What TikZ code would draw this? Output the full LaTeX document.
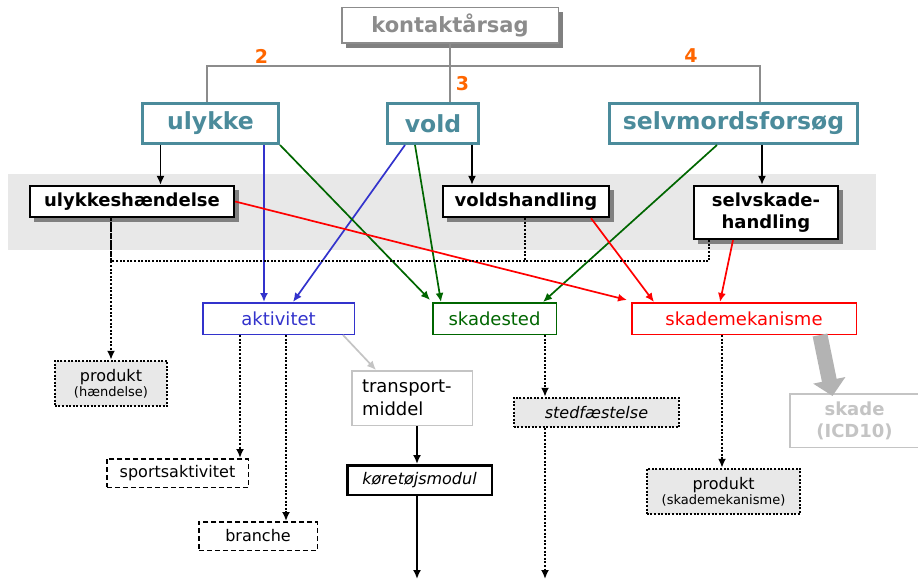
\documentclass[tikz,border=0pt]{standalone}
\usepackage{fontspec}
\setmainfont{DejaVu Sans}
\usetikzlibrary{arrows.meta,shadows}
\definecolor{headteal}{HTML}{4B8B9B}
\definecolor{numorange}{HTML}{FF6600}
\definecolor{aktblue}{HTML}{3333CC}
\definecolor{stedgreen}{HTML}{006600}
\definecolor{mekred}{HTML}{FF0000}
\definecolor{bandgray}{HTML}{E8E8E8}
\definecolor{shadowgray}{HTML}{808080}
\definecolor{rootgray}{HTML}{8C8C8C}
\definecolor{lightline}{HTML}{C4C4C4}
\definecolor{bigarrow}{HTML}{B3B3B3}
\begin{document}
\begin{tikzpicture}[x=1pt,y=-1pt,
    >={Latex[length=9pt,width=8pt]},
    shadowed/.style={drop shadow={shadow xshift=4.5pt,shadow yshift=-4.5pt,fill=shadowgray,opacity=1}},
    rootbox/.style={draw=rootgray,line width=1.5pt,fill=white,text=rootgray,shadowed,
        font=\fontsize{21}{24}\selectfont\bfseries,inner sep=0pt,minimum width=216.5pt,minimum height=35.5pt},
    headbox/.style={draw=headteal,line width=3pt,fill=white,text=headteal,
        font=\fontsize{23.5}{26}\selectfont\bfseries,inner sep=0pt,minimum height=40pt},
    actbox/.style={draw=black,line width=1.8pt,fill=white,shadowed,align=center,
        font=\fontsize{18}{22}\selectfont\bfseries,inner sep=0pt,minimum height=31.5pt},
    catbox/.style={line width=1.5pt,fill=white,inner sep=0pt,minimum height=31.5pt,
        font=\fontsize{18}{21}\selectfont},
    dotline/.style={line width=2pt,dash pattern=on 2pt off 1.6pt},
    dotbox/.style={draw=black,dotline,fill=bandgray,inner sep=0pt,align=center,
        font=\fontsize{16}{15}\selectfont},
    dashbox/.style={draw=black,line width=1.5pt,dash pattern=on 5pt off 3pt,fill=white,inner sep=0pt,
        minimum height=28.5pt,font=\fontsize{16}{18}\selectfont},
    tree/.style={draw=rootgray,line width=1.8pt},
    link/.style={->,line width=1.7pt},
    num/.style={text=numorange,font=\fontsize{19}{21}\selectfont\bfseries}]
    \useasboundingbox (0,0) rectangle (918,580);

    \fill[bandgray] (8,174) rectangle (876,250);

    \node[rootbox] (kontakt) at (450,25.5) {kontaktårsag};
    \node[headbox,minimum width=136pt] (ulykke) at (210.5,123.5) {ulykke};
    \node[headbox,minimum width=91pt] (vold) at (433,123.5) {vold};
    \node[headbox,minimum width=248pt] (selvmord) at (733.5,123.5) {selvmordsforsøg};

    \draw[tree] (kontakt.south) -- (kontakt.south |- vold.north);
    \draw[tree] ([xshift=-3.5pt]ulykke.north) -- ++(0,-36) -| ([xshift=26.5pt]selvmord.north);
    \node[num] (n2) at (261.5,56) {2};
    \node[num] (n3) at (462.5,83.5) {3};
    \node[num] (n4) at (691,56) {4};

    \node[actbox,minimum width=204.5pt] (uhaend) at (132,201.5) {ulykkeshændelse};
    \node[actbox,minimum width=166.5pt] (voldsh) at (526,201.5) {voldshandling};
    \node[actbox,minimum width=144.5pt,minimum height=53.5pt] (selvskade) at (766,212.5) {selvskade-\\handling};

    \draw[link] ([xshift=-50pt]ulykke.south) -- ([xshift=28.5pt]uhaend.north);
    \draw[link] ([xshift=39pt]vold.south) -- ([xshift=-54pt]voldsh.north);
    \draw[link] ([xshift=28.5pt]selvmord.south) -- ([xshift=-4pt]selvskade.north);

    \node[catbox,draw=aktblue,text=aktblue,minimum width=151.5pt] (aktiv) at (278.5,318.5) {aktivitet};
    \node[catbox,draw=stedgreen,text=stedgreen,minimum width=123.5pt] (skadested) at (494.5,318.5) {skadested};
    \node[catbox,draw=mekred,text=mekred,minimum width=224.5pt] (skademek) at (744,318.5) {skademekanisme};

    \draw[link,aktblue] ([xshift=53.5pt]ulykke.south) -- ([xshift=-14.5pt]aktiv.north);
    \draw[link,aktblue] ([xshift=-28pt]vold.south) -- ([xshift=14.5pt]aktiv.north);
    \draw[link,stedgreen] (ulykke.south east) -- ([xshift=-2pt,yshift=2pt]skadested.north west);
    \draw[link,stedgreen] ([xshift=-18pt]vold.south) -- ([xshift=-53.5pt]skadested.north);
    \draw[link,stedgreen] ([xshift=-16.5pt]selvmord.south) -- ([xshift=48.5pt]skadested.north);
    \draw[link,mekred] (uhaend.east) -- ([xshift=-4pt,yshift=2pt]skademek.north west);
    \draw[link,mekred] ([xshift=65pt]voldsh.south) -- ([xshift=-90pt]skademek.north);
    \draw[link,mekred] ([xshift=-33pt]selvskade.south) -- ([xshift=-24pt]skademek.north);

    \node[dotbox,minimum width=112.5pt,minimum height=45.5pt] (produkt) at (111,383.5)
        {produkt\\\fontsize{13}{15}\selectfont(hændelse)};
    \draw[dotline,->] ([xshift=-21pt]uhaend.south) -- (produkt.north);
    \draw[dotline] ([xshift=-57pt]selvskade.south) -- ++(0,21) -| ([xshift=-21pt]uhaend.south);
    \draw[dotline] ([xshift=-1pt]voldsh.south) -- ++(0,43);

    \node[dashbox,minimum width=141.5pt] (sport) at (177.5,473) {sportsaktivitet};
    \node[dashbox,minimum width=118.5pt] (branche) at (258,536) {branche};
    \draw[dotline,->] ([xshift=-38.5pt]aktiv.south) -- ([xshift=62.5pt]sport.north);
    \draw[dotline,->] ([xshift=7.5pt]aktiv.south) -- ([xshift=28pt]branche.north);

    \node[catbox,draw=lightline,text width=100pt,align=left,minimum width=120.5pt,
        minimum height=54.5pt,font=\fontsize{18}{23}\selectfont] (transport) at (412,398) {transport-\\middel};
    \node[catbox,draw=black,line width=2.5pt,minimum width=144.5pt,minimum height=29.5pt,
        font=\fontsize{16}{18}\selectfont\itshape] (koeretoej) at (419.5,480) {køretøjsmodul};
    \coordinate (kend) at (417,579);
    \draw[link,lightline] ([xshift=64.5pt]aktiv.south) -- ([xshift=-36pt]transport.north);
    \draw[link] ([xshift=5pt]transport.south) -- ([xshift=-2.5pt]koeretoej.north);
    \draw[link] ([xshift=-2.5pt]koeretoej.south) -- (kend);

    \node[dotbox,minimum width=165.5pt,minimum height=29.5pt,font=\fontsize{16}{18}\selectfont\itshape]
        (stedfaest) at (596.5,412.5) {stedfæstelse};
    \coordinate (send) at (545,579);
    \draw[dotline,->] ([xshift=50.5pt]skadested.south) -- ([xshift=-51.5pt]stedfaest.north);
    \draw[dotline,->] ([xshift=-51.5pt]stedfaest.south) -- (send);

    \node[dotbox,minimum width=153.5pt,minimum height=45.5pt] (produktmek) at (723.5,491.5)
        {produkt\\\fontsize{13}{15}\selectfont(skademekanisme)};
    \draw[dotline,->] ([xshift=-22pt]skademek.south) -- ([xshift=-1.5pt]produktmek.north);

    \node[catbox,draw=lightline,text=lightline,align=center,minimum width=129.5pt,minimum height=53.5pt,
        font=\fontsize{18}{22}\selectfont\bfseries] (skade) at (854.5,420.5) {skade\\(ICD10)};
    \draw[bigarrow,line width=15pt,-{Triangle[length=16pt,width=32pt]}]
        ([xshift=76pt]skademek.south) -- ([xshift=-22pt,yshift=-3pt]skade.north);
\end{tikzpicture}
\end{document}
